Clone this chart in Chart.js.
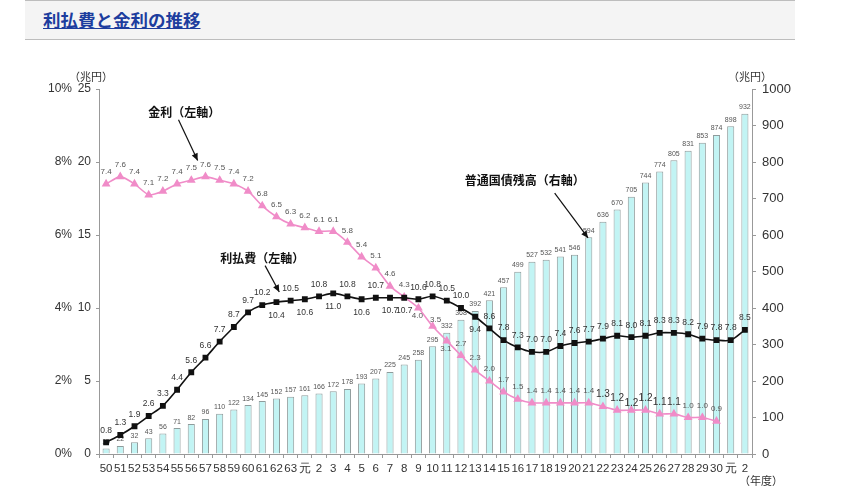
<!DOCTYPE html>
<html><head><meta charset="utf-8">
<script src="https://cdn.jsdelivr.net/npm/chart.js@4"></script>
<style>
html,body{margin:0;padding:0;background:#fff;width:862px;height:493px;overflow:hidden;}
#band{position:absolute;left:25px;top:0;width:770px;height:38px;background:#f4f4f4;border-top:1px solid #bdbdbd;border-bottom:1px solid #bdbdbd;}
#title{position:absolute;left:18px;top:8px;font-family:"Noto Sans CJK JP",sans-serif;font-size:17.5px;font-weight:bold;color:#1d3d9e;text-decoration:underline;letter-spacing:0px;line-height:21px;}
#wrap{position:absolute;left:0;top:0;width:862px;height:493px;}
canvas{display:block;}
</style></head>
<body>
<div id="band"><span id="title">利払費と金利の推移</span></div>
<div id="wrap"><canvas id="c" width="862" height="493" style="width:862px;height:493px"></canvas></div>
<script>
// 年度 (category labels)
const years = ['50','51','52','53','54','55','56','57','58','59','60','61','62','63','元',
  '2','3','4','5','6','7','8','9','10','11','12','13','14','15','16','17','18','19','20',
  '21','22','23','24','25','26','27','28','29','30','元','2'];
// 普通国債残高（兆円, 右軸）
const bondBalance = [15,22,32,43,56,71,82,96,110,122,134,145,152,157,161,
  166,172,178,193,207,225,245,258,295,332,368,392,421,457,499,527,532,541,546,
  594,636,670,705,744,774,805,831,853,874,898,932];
// 利払費（兆円, 左軸）
const interestCost = [0.8,1.3,1.9,2.6,3.3,4.4,5.6,6.6,7.7,8.7,9.7,10.2,10.4,10.5,10.6,
  10.8,11.0,10.8,10.6,10.7,10.7,10.7,10.6,10.8,10.5,10.0,9.4,8.6,7.8,7.3,7.0,7.0,7.4,7.6,
  7.7,7.9,8.1,8.0,8.1,8.3,8.3,8.2,7.9,7.8,7.8,8.5];
// 金利（%, 左軸）
const interestRate = [7.4,7.6,7.4,7.1,7.2,7.4,7.5,7.6,7.5,7.4,7.2,6.8,6.5,6.3,6.2,
  6.1,6.1,5.8,5.4,5.1,4.6,4.3,4.0,3.5,3.1,2.7,2.3,2.0,1.7,1.5,1.4,1.4,1.4,1.4,
  1.4,1.3,1.2,1.2,1.2,1.1,1.1,1.0,1.0,0.9,null,null];
// 軸目盛
const yenTicks = [0,5,10,15,20,25];
const pctTicks = [0,2,4,6,8,10];
const balanceTicks = [0,100,200,300,400,500,600,700,800,900,1000];

const costBelow = new Set([12,14,16,18,20,21,26]);

function arrow(ctx, x1, y1, x2, y2) {
  ctx.beginPath(); ctx.moveTo(x1, y1); ctx.lineTo(x2, y2); ctx.stroke();
  const a = Math.atan2(y2 - y1, x2 - x1), L = 7, W = 3.2;
  ctx.beginPath();
  ctx.moveTo(x2, y2);
  ctx.lineTo(x2 - L*Math.cos(a) + W*Math.sin(a), y2 - L*Math.sin(a) - W*Math.cos(a));
  ctx.lineTo(x2 - L*Math.cos(a) - W*Math.sin(a), y2 - L*Math.sin(a) + W*Math.cos(a));
  ctx.closePath(); ctx.fill();
}

const labelPlugin = {
  id: 'labels',
  afterDatasetDraw(chart, args) {
    if (args.index !== 0) return;
    const ctx = chart.ctx;
    ctx.save();
    ctx.font = '7px "Liberation Sans"';
    ctx.fillStyle = '#555';
    ctx.textAlign = 'center'; ctx.textBaseline = 'bottom';
    args.meta.data.forEach((el, i) => ctx.fillText(String(bondBalance[i]), el.x, el.y - 3));
    ctx.restore();
  },
  afterDatasetsDraw(chart) {
    const ctx = chart.ctx;
    const xs = chart.scales.x, yl = chart.scales.y, yr = chart.scales.y2;
    ctx.save();
    ctx.textAlign = 'center'; ctx.textBaseline = 'middle';
    // 利払費 labels
    ctx.font = '8.5px "Liberation Sans"'; ctx.fillStyle = '#333';
    chart.getDatasetMeta(1).data.forEach((el, i) => {
      const dy = costBelow.has(i) ? 13 : -12;
      ctx.fillText(interestCost[i].toFixed(1), el.x, el.y + dy);
    });
    // 金利 labels
    chart.getDatasetMeta(2).data.forEach((el, i) => {
      if (interestRate[i] === null) return;
      let dx = 0, dy = -12;
      if (i === 22 || i === 24) { dy = 8; dx = -1; }
      if (i === 23) { dy = -6; dx = 3; }
      if (i === 37) { dy = -7; }
      if (i >= 35 && i <= 40) { ctx.font = '10px "Liberation Sans"'; ctx.fillStyle = '#333'; }
      else { ctx.font = '8px "Liberation Sans"'; ctx.fillStyle = '#555'; }
      ctx.fillText(interestRate[i].toFixed(1), el.x + dx, el.y + dy);
    });
    // units
    ctx.font = '11px "Noto Sans CJK JP"'; ctx.fillStyle = '#333';
    ctx.fillText('（兆円）', yl.right - 8, yl.top - 12);
    ctx.fillText('（兆円）', yr.left - 2, yr.top - 12);
    ctx.fillText('（年度）', xs.getPixelForValue(45) + 16, xs.bottom - 12);
    // annotations
    ctx.font = 'bold 12px "Noto Sans CJK JP"'; ctx.fillStyle = '#111'; ctx.strokeStyle = '#111'; ctx.lineWidth = 1.2;
    ctx.fillText('金利（左軸）', xs.getPixelForValue(5.5), yl.getPixelForValue(23.4));
    arrow(ctx, xs.getPixelForValue(5.1), yl.getPixelForValue(22.9), xs.getPixelForValue(6.45), yl.getPixelForValue(20.1));
    ctx.fillText('利払費（左軸）', xs.getPixelForValue(11.0), yl.getPixelForValue(13.4));
    arrow(ctx, xs.getPixelForValue(11.2), yl.getPixelForValue(12.9), xs.getPixelForValue(12.2), yl.getPixelForValue(11.1));
    ctx.fillText('普通国債残高（右軸）', xs.getPixelForValue(29.5), yr.getPixelForValue(750));
    arrow(ctx, xs.getPixelForValue(31.6), yr.getPixelForValue(715), xs.getPixelForValue(33.95), yr.getPixelForValue(592));
    ctx.restore();
  }
};

new Chart(document.getElementById('c'), {
  data: {
    labels: years,
    datasets: [
      { type: 'bar', label: '普通国債残高', data: bondBalance, yAxisID: 'y2', order: 3,
        backgroundColor: '#c2f4f4', borderColor: '#8f9c9c', borderWidth: 1,
        barPercentage: 0.5, categoryPercentage: 1.0 },
      { type: 'line', label: '利払費', data: interestCost, yAxisID: 'y', order: 1,
        borderColor: '#111', borderWidth: 1.6, tension: 0.3,
        pointStyle: 'rect', pointRadius: 3, pointBackgroundColor: '#111', pointBorderColor: '#111' },
      { type: 'line', label: '金利', data: interestRate, yAxisID: 'yRate', order: 2,
        borderColor: '#f08cc8', borderWidth: 1.6, tension: 0.2, spanGaps: false,
        pointStyle: 'triangle', pointRadius: 3.5, pointBackgroundColor: '#f08cc8', pointBorderColor: '#f08cc8' }
    ]
  },
  options: {
    responsive: false,
    animation: false,
    devicePixelRatio: 1,
    layout: { padding: { top: 89, left: 41, right: 0, bottom: 0 } },
    plugins: { legend: { display: false }, tooltip: { enabled: false } },
    scales: {
      x: {
        type: 'category',
        offset: true,
        grid: { display: true, offset: true, drawOnChartArea: false, tickLength: 4, color: '#999' },
        border: { display: true, color: '#999' },
        ticks: { autoSkip: false, maxRotation: 0, minRotation: 0, padding: 4, color: '#333',
          font: { family: 'Liberation Sans', size: 11.5 } },
        afterFit: s => { s.height = 39; }
      },
      y: {
        position: 'left', weight: 0, min: 0, max: 25,
        afterBuildTicks: s => { s.ticks = yenTicks.map(v => ({ value: v })); },
        grid: { display: true, drawOnChartArea: false, tickLength: 3, color: '#999' },
        border: { display: true, color: '#999', width: 1 },
        ticks: { padding: 5, color: '#333', font: { family: 'Liberation Sans', size: 12 } },
        afterFit: s => { s.width = 25; }
      },
      yRate: {
        position: 'left', weight: 1, min: 0, max: 10,
        afterBuildTicks: s => { s.ticks = pctTicks.map(v => ({ value: v })); },
        grid: { display: false, drawTicks: false, tickLength: 0 },
        border: { display: false },
        ticks: { padding: 2, color: '#333', font: { family: 'Liberation Sans', size: 12 },
          callback: v => v + '%' },
        afterFit: s => { s.width = 33; }
      },
      y2: {
        position: 'right', min: 0, max: 1000,
        afterBuildTicks: s => { s.ticks = balanceTicks.map(v => ({ value: v })); },
        grid: { display: true, drawOnChartArea: false, tickLength: 4, color: '#999' },
        border: { display: true, color: '#999', width: 1 },
        ticks: { padding: 6, color: '#333', font: { family: 'Liberation Sans', size: 13 },
          callback: v => String(v) },
        afterFit: s => { s.width = 110; }
      }
    }
  },
  plugins: [labelPlugin]
});
</script>
</body></html>
